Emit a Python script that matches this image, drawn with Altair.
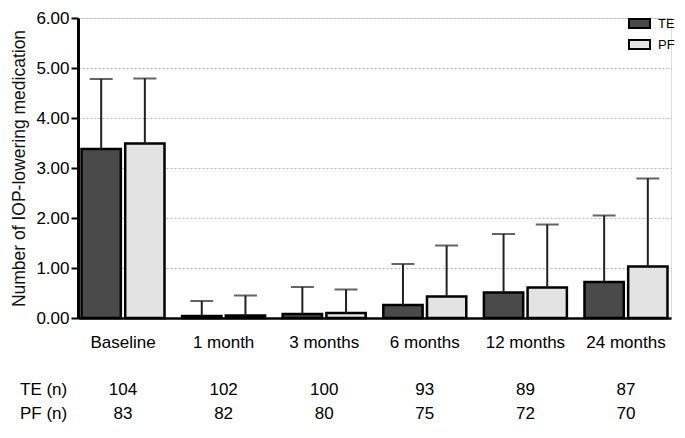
import altair as alt
import pandas as pd

times = ["Baseline", "1 month", "3 months", "6 months", "12 months", "24 months"]
groups = ["TE", "PF"]
te_mean = [3.38, 0.04, 0.08, 0.26, 0.51, 0.72]
te_upper = [4.78, 0.34, 0.62, 1.08, 1.68, 2.05]
pf_mean = [3.49, 0.05, 0.10, 0.43, 0.61, 1.03]
pf_upper = [4.79, 0.45, 0.57, 1.45, 1.87, 2.79]
te_n = [104, 102, 100, 93, 89, 87]
pf_n = [83, 82, 80, 75, 72, 70]
row_labels = ["TE (n)", "PF (n)"]

rows = []
for i, t in enumerate(times):
    rows.append({"time": t, "group": "TE", "mean": te_mean[i], "upper": te_upper[i]})
    rows.append({"time": t, "group": "PF", "mean": pf_mean[i], "upper": pf_upper[i]})
df = pd.DataFrame(rows)
ndf = pd.DataFrame({"time": times, "te_n": te_n, "pf_n": pf_n})

FONT = "Liberation Sans"
W = 593
H = 300
TE_ROW_Y = 372
PF_ROW_Y = 396

xscale = alt.Scale(domain=times, paddingInner=0.175, paddingOuter=0.035)
xoff = alt.XOffset("group:N", scale=alt.Scale(domain=groups, paddingInner=0.1))
x_enc = alt.X("time:N", scale=xscale, sort=times,
              axis=alt.Axis(title=None, labelAngle=0, ticks=False, domainColor="black",
                            domainWidth=2.5, labelFontSize=17, labelColor="black",
                            labelPadding=16, grid=False, labelFont=FONT))
y_enc = alt.Y("mean:Q", scale=alt.Scale(domain=[0, 6], nice=False),
              axis=alt.Axis(values=[0, 1, 2, 3, 4, 5, 6], format=".2f",
                            domainColor="black", domainWidth=3, tickColor="black",
                            tickWidth=2, tickSize=7, labelFontSize=17, labelColor="black",
                            labelPadding=2, labelFont=FONT,
                            gridColor="#b5b5b5", gridDash=[2, 2], gridWidth=1,
                            title="Number of IOP-lowering medication",
                            titleFontSize=17.5, titleFontWeight="normal", titleColor="#111",
                            titleFont=FONT, titleX=-68, titleY=H / 2, titleBaseline="top",
                            titleAlign="center"))

base = alt.Chart(df)

bars = base.mark_bar(stroke="black", strokeWidth=2.5).encode(
    x=x_enc,
    xOffset=xoff,
    y=y_enc,
    color=alt.Color("group:N", scale=alt.Scale(domain=groups, range=["#4a4a4a", "#e3e3e3"]),
                    legend=alt.Legend(title=None, orient="none", legendX=550, legendY=-6,
                                      symbolType="M-1,-0.43H1V0.43H-1Z", symbolSize=441,
                                      symbolStrokeColor="black", symbolStrokeWidth=2,
                                      symbolOpacity=1, labelFontSize=13, labelOffset=7,
                                      labelColor="black", labelFont=FONT, padding=0,
                                      rowPadding=0)),
)

rules = base.mark_rule(color="#222", strokeWidth=2).encode(
    x=alt.X("time:N", scale=xscale, sort=times),
    xOffset=xoff,
    y=alt.Y("mean:Q"),
    y2="upper:Q",
)

caps = base.mark_tick(color="#222", size=23, thickness=2).encode(
    x=alt.X("time:N", scale=xscale, sort=times),
    xOffset=xoff,
    y=alt.Y("upper:Q"),
)

te_text = alt.Chart(ndf).mark_text(fontSize=17, font=FONT, color="black", baseline="middle").encode(
    x=alt.X("time:N", scale=xscale, sort=times),
    y=alt.value(TE_ROW_Y),
    text="te_n:Q",
)
pf_text = alt.Chart(ndf).mark_text(fontSize=17, font=FONT, color="black", baseline="middle").encode(
    x=alt.X("time:N", scale=xscale, sort=times),
    y=alt.value(PF_ROW_Y),
    text="pf_n:Q",
)
te_lab = alt.Chart(pd.DataFrame({"label": [row_labels[0]]})).mark_text(
    fontSize=17, font=FONT, color="black", align="left", baseline="middle").encode(
    x=alt.value(-58), y=alt.value(TE_ROW_Y), text="label:N")
pf_lab = alt.Chart(pd.DataFrame({"label": [row_labels[1]]})).mark_text(
    fontSize=17, font=FONT, color="black", align="left", baseline="middle").encode(
    x=alt.value(-58), y=alt.value(PF_ROW_Y), text="label:N")

chart = alt.layer(bars, rules, caps, te_text, pf_text, te_lab, pf_lab).properties(
    width=W, height=H,
    autosize=alt.AutoSizeParams(type="none"),
    padding={"left": 70, "top": 10, "right": 6, "bottom": 107},
).configure_view(stroke=None).configure(font=FONT)

chart.save("out.html", embed_options={"renderer": "svg", "actions": False})
